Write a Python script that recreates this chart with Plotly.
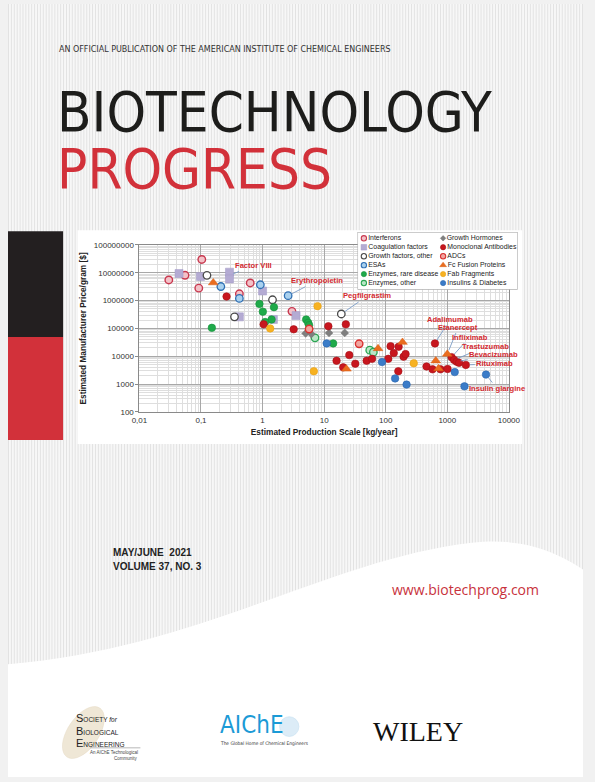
import base64
import math
import plotly.graph_objects as go

W, H = 595, 782

categories = ["Interferons", "Coagulation factors", "Growth factors, other", "ESAs",
              "Enzymes, rare disease", "Enzymes, other", "Growth Hormones",
              "Monoclonal Antibodies", "ADCs", "Fc Fusion Proteins", "Fab Fragments",
              "Insulins & Diabetes"]

# estimated production scale [kg/year] and price [$/g]
interferons_x = [0.030, 0.055, 0.103, 0.092, 0.42, 0.63, 3.0]
interferons_y = [5.5e6, 8.1e6, 3.0e7, 2.8e6, 1.75e6, 4.3e6, 4.1e5]
coagulation_x = [0.044, 0.098, 0.29, 0.29, 1.0, 0.42, 1.5, 3.5]
coagulation_y = [9.4e6, 7.3e6, 1.05e7, 6.0e6, 2.2e6, 2.6e5, 2.1e5, 2.9e5]
growth_factors_x = [0.125, 0.35, 1.45, 19]
growth_factors_y = [8.1e6, 2.6e5, 1.07e6, 3.3e5]
esas_x = [0.21, 0.42, 0.92, 2.6]
esas_y = [3.2e6, 1.2e6, 3.7e6, 1.5e6]
enzymes_rare_x = [0.15, 0.89, 1.01, 1.53, 1.4, 1.1, 5.1, 5.5, 5.7, 14]
enzymes_rare_y = [1.05e5, 7.6e5, 4.0e5, 5.8e5, 2.1e5, 1.7e5, 2.1e5, 1.6e5, 1.3e5, 2.9e4]
enzymes_other_x = [7.1, 55, 63]
enzymes_other_y = [4.6e4, 1.65e4, 1.4e4]
growth_hormones_x = [5.0, 6.2, 12, 21.6]
growth_hormones_y = [6.6e4, 6.3e4, 6.9e4, 6.9e4]
mabs_x = [0.26, 1.04, 3.2, 11.7, 22.5, 15.9, 20.4, 25.6, 32, 49, 60, 110, 120, 135,
          162, 195, 210, 160, 460, 575, 775, 1010, 630, 1175, 1290, 1420, 1550, 2000]
mabs_y = [1.4e6, 1.4e5, 9.3e4, 1.2e5, 1.4e5, 6.9e3, 4.0e3, 1.1e4, 5.4e3, 6.9e3, 8.1e3,
          8.1e3, 2.3e4, 1.3e4, 2.2e4, 9.7e3, 1.2e4, 2.9e3, 4.3e3, 3.4e3, 3.4e3, 3.5e3,
          2.9e4, 9.3e3, 7.4e3, 6.4e3, 5.8e3, 4.9e3]
adcs_x = [5.7, 37]
adcs_y = [9.5e4, 2.8e4]
fc_fusion_x = [0.158, 75, 187, 23, 650, 1000, 720]
fc_fusion_y = [4.4e6, 1.9e4, 3.2e4, 3.5e3, 6.9e3, 1.2e4, 3.6e3]
fab_x = [1.33, 7.8, 6.8, 285]
fab_y = [1.0e5, 6.3e5, 2.9e3, 5.6e3]
insulins_x = [11, 87, 142, 218, 1320, 1900, 4250]
insulins_y = [2.9e4, 6.2e3, 1.6e3, 960, 2.7e3, 830, 2.2e3]

x_tickvals = [0.01, 0.1, 1, 10, 100, 1000, 10000]
x_ticktext = ["0,01", "0,1", "1", "10", "100", "1000", "10000"]
y_tickvals = [100, 1000, 10000, 100000, 1000000, 10000000, 100000000]
y_ticktext = ["100", "1000", "10000", "100000", "1000000", "10000000", "100000000"]

# named products: label, x, y
label_names = ["Factor VIII", "Erythropoietin", "Pegfilgrastim", "Adalimumab", "Etanercept",
               "Infliximab", "Trastuzumab", "Bevacizumab", "Rituximab", "Insulin glargine"]
label_x = [0.29, 2.6, 19, 630, 1000, 1175, 1290, 1420, 2000, 4250]
label_y = [8.0e6, 1.5e6, 3.3e5, 2.9e4, 1.2e4, 9.3e3, 7.4e3, 6.4e3, 4.9e3, 2.2e3]
label_dx = [24, 29, 26, 15, 11, 18, 31, 37, 29, 11]
label_dy = [-10, -15, -18, -24, -27, -20, -13, -7, -1, 14]

series = {
    "Interferons": (interferons_x, interferons_y),
    "Coagulation factors": (coagulation_x, coagulation_y),
    "Growth factors, other": (growth_factors_x, growth_factors_y),
    "ESAs": (esas_x, esas_y),
    "Enzymes, rare disease": (enzymes_rare_x, enzymes_rare_y),
    "Enzymes, other": (enzymes_other_x, enzymes_other_y),
    "Growth Hormones": (growth_hormones_x, growth_hormones_y),
    "Monoclonal Antibodies": (mabs_x, mabs_y),
    "ADCs": (adcs_x, adcs_y),
    "Fc Fusion Proteins": (fc_fusion_x, fc_fusion_y),
    "Fab Fragments": (fab_x, fab_y),
    "Insulins & Diabetes": (insulins_x, insulins_y),
}

styles = {
    "Interferons": dict(symbol="circle", size=7.5, color="#f3c2c8", line=dict(color="#c8384f", width=1.4)),
    "Coagulation factors": dict(symbol="square", size=8, color="#b4abd3", line=dict(color="#a39bc6", width=0.5)),
    "Growth factors, other": dict(symbol="circle", size=7.5, color="#ffffff", line=dict(color="#4a4a4a", width=1.3)),
    "ESAs": dict(symbol="circle", size=7.5, color="#a9d1ef", line=dict(color="#2f6fb3", width=1.3)),
    "Enzymes, rare disease": dict(symbol="circle", size=7.5, color="#1faa4a", line=dict(color="#15903b", width=0.6)),
    "Enzymes, other": dict(symbol="circle", size=7.5, color="#b9e6c6", line=dict(color="#2aa552", width=1.3)),
    "Growth Hormones": dict(symbol="diamond", size=6, color="#7f7f7f", line=dict(color="#6e6e6e", width=0.5)),
    "Monoclonal Antibodies": dict(symbol="circle", size=7.5, color="#c8161e", line=dict(color="#a51218", width=0.6)),
    "ADCs": dict(symbol="circle", size=7.5, color="#f1a5a0", line=dict(color="#d9312f", width=1.4)),
    "Fc Fusion Proteins": dict(symbol="triangle-up", size=8.5, color="#ea6d1f", line=dict(color="#d85f15", width=0.5)),
    "Fab Fragments": dict(symbol="circle", size=7.5, color="#f7b222", line=dict(color="#e8a013", width=0.6)),
    "Insulins & Diabetes": dict(symbol="circle", size=7.5, color="#3b7cc8", line=dict(color="#2c67ad", width=0.6)),
}


def fx(px):
    return px / W


def fy(py):
    return 1 - py / H


fig = go.Figure()

for name in categories:
    xs, ys = series[name]
    fig.add_trace(go.Scatter(x=xs, y=ys, mode="markers", name=name, marker=styles[name],
                             showlegend=False, hoverinfo="x+y+name", xaxis="x", yaxis="y"))

# legend as a small inset: two columns of six
for i, name in enumerate(categories):
    st = dict(styles[name])
    st["size"] = st["size"] * 0.7
    st["line"] = dict(st["line"], width=min(st["line"]["width"], 1.1))
    fig.add_trace(go.Scatter(x=[i // 6], y=[i % 6], mode="markers+text", text=[name],
                             textposition="middle right", marker=st, showlegend=False,
                             textfont=dict(family="Liberation Sans, Arial", size=6.9, color="#222"),
                             hoverinfo="skip", xaxis="x2", yaxis="y2", cliponaxis=False))

font_axis = dict(family="Liberation Sans, Arial", size=8, color="#333")
fig.update_layout(
    width=W, height=H, autosize=False,
    margin=dict(l=0, r=0, t=0, b=0),
    paper_bgcolor="#f1f1f1", plot_bgcolor="rgba(0,0,0,0)",
    showlegend=False,
    xaxis=dict(type="log", range=[-2, 4], domain=[fx(136), fx(518.3)], anchor="y",
               tickvals=x_tickvals, ticktext=x_ticktext, tickfont=font_axis,
               showgrid=True, gridcolor="#a8a8a8", gridwidth=0.8,
               minor=dict(dtick="D1", showgrid=True, gridcolor="#dedede", gridwidth=0.5),
               showline=True, linecolor="#8a8a8a", linewidth=1, mirror=True,
               ticks="", zeroline=False,
               title=dict(text="Estimated Production Scale [kg/year]", standoff=5,
                          font=dict(family="Liberation Sans, Arial", size=8.3, color="#222", weight="bold"))),
    yaxis=dict(type="log", range=[2, 8], domain=[fy(412.7), fy(243.7)], anchor="x",
               tickvals=y_tickvals, ticktext=y_ticktext, tickfont=font_axis,
               showgrid=True, gridcolor="#a8a8a8", gridwidth=0.8,
               minor=dict(dtick="D1", showgrid=True, gridcolor="#dedede", gridwidth=0.5),
               showline=True, linecolor="#8a8a8a", linewidth=1, mirror=True,
               ticks="outside", ticklen=3, tickcolor="#8a8a8a", zeroline=False,
               title=dict(text="Estimated Manufacturer Price/gram [$]", standoff=5,
                          font=dict(family="Liberation Sans, Arial", size=8.3, color="#222", weight="bold"))),
    xaxis2=dict(domain=[fx(361.7), fx(527.3)], range=[-0.08, 1.94], anchor="y2",
                visible=False, fixedrange=True),
    yaxis2=dict(domain=[fy(289), fy(230.7)], range=[5.74, -0.7], anchor="x2",
                visible=False, fixedrange=True),
)

# striped cover background
svg = ('<svg xmlns="http://www.w3.org/2000/svg" width="595" height="782">'
       '<defs><pattern id="p" width="3" height="10" patternUnits="userSpaceOnUse">'
       '<rect width="3" height="10" fill="#f7f7f7"/><rect width="1" height="10" fill="#e2e2e2"/>'
       '</pattern></defs><rect width="595" height="782" fill="url(#p)"/></svg>')
fig.add_layout_image(source="data:image/svg+xml;base64," + base64.b64encode(svg.encode()).decode(),
                     xref="paper", yref="paper", x=0, y=1, sizex=1, sizey=1,
                     sizing="stretch", xanchor="left", yanchor="top", layer="below")

# white wave at the bottom
wave = ("M {},{} C {},{} {},{} {},{} C {},{} {},{} {},{} L {},{} L {},{} Z").format(
    fx(0), fy(668), fx(200), fy(652), fx(330), fy(562), fx(480), fy(545),
    fx(535), fy(539), fx(570), fy(556), fx(595), fy(572), fx(595), fy(782), fx(0), fy(782))
fig.add_shape(type="path", path=wave, xref="paper", yref="paper",
              fillcolor="#ffffff", line=dict(width=0), layer="below")
# side bars and chart panel
fig.add_shape(type="rect", xref="paper", yref="paper", x0=fx(0), x1=fx(57), y0=fy(337), y1=fy(230),
              fillcolor="#231f20", line=dict(width=0), layer="below")
fig.add_shape(type="rect", xref="paper", yref="paper", x0=fx(0), x1=fx(57), y0=fy(441), y1=fy(337),
              fillcolor="#d2313a", line=dict(width=0), layer="below")
fig.add_shape(type="rect", xref="paper", yref="paper", x0=fx(72), x1=fx(532), y0=fy(445), y1=fy(229),
              fillcolor="#ffffff", line=dict(width=0), layer="below")
# legend box
fig.add_shape(type="rect", xref="x2", yref="y2", x0=-0.08, x1=1.94, y0=5.74, y1=-0.7,
              fillcolor="#ffffff", line=dict(color="#a0a0a0", width=1), layer="below")

# product labels
for name, lx, ly, dx, dy in zip(label_names, label_x, label_y, label_dx, label_dy):
    fig.add_annotation(x=math.log10(lx), y=math.log10(ly), xref="x", yref="y", text=name,
                       showarrow=True, arrowhead=0, arrowwidth=0.9, arrowcolor="#7a9cc6",
                       ax=dx, ay=dy, standoff=4,
                       font=dict(family="Liberation Sans, Arial", size=7.6, color="#d42a30", weight="bold"))


# cover text
def cover_text(text, px, py, size, color, family, xanchor="left", weight="normal"):
    fig.add_annotation(x=fx(px), y=fy(py), xref="paper", yref="paper", text=text, showarrow=False,
                       xanchor=xanchor, yanchor="middle",
                       font=dict(family=family, size=size, color=color, weight=weight))


narrow = "Liberation Sans Narrow, DejaVu Sans Condensed, Arial Narrow, sans-serif"
cover_text("AN OFFICIAL PUBLICATION OF THE AMERICAN INSTITUTE OF CHEMICAL ENGINEERS",
           51, 46, 8.9, "#333", narrow)
cover_text("BIOTECHNOLOGY", 49, 108.6, 56, "#1d1d1b", narrow)
cover_text("PROGRESS", 49, 166.6, 56, "#d2313a", narrow)
cover_text("MAY/JUNE  2021", 107, 555, 10, "#222", "Liberation Sans, Arial", weight="bold")
cover_text("VOLUME 37, NO. 3", 107, 569, 10, "#222", "Liberation Sans, Arial", weight="bold")
cover_text("www.biotechprog.com", 473.5, 592, 14, "#c8323c", "Open Sans, sans-serif", xanchor="center")

# society / publisher marks
ell = []
for k in range(41):
    t = 2 * math.pi * k / 40
    ex, ey = 30 * math.cos(t), 16 * math.sin(t)
    a = math.radians(-55)
    ell.append((78 + ex * math.cos(a) - ey * math.sin(a), 737 + ex * math.sin(a) + ey * math.cos(a)))
ell_path = "M " + " L ".join("{},{}".format(fx(p), fy(q)) for p, q in ell) + " Z"
fig.add_shape(type="path", path=ell_path, xref="paper", yref="paper",
              fillcolor="#efe7d6", line=dict(color="#e4d9c2", width=0.5), layer="below")
sbe_font = "Liberation Sans, Arial"
cover_text("<span style='font-size:11px'>S</span>OCIETY <i>for</i>", 68, 722, 6.5, "#222", sbe_font)
cover_text("<span style='font-size:11px'>B</span>IOLOGICAL", 68, 735, 6.5, "#222", sbe_font)
cover_text("<span style='font-size:11px'>E</span>NGINEERING", 68, 747.5, 6.5, "#222", sbe_font)
fig.add_shape(type="line", xref="paper", yref="paper", x0=fx(85), x1=fx(137), y0=fy(752.5), y1=fy(752.5),
              line=dict(color="#888", width=0.6))
cover_text("An AIChE Technological", 137, 757.5, 4.5, "#444", sbe_font, xanchor="right")
cover_text("Community", 137, 763, 4.5, "#444", sbe_font, xanchor="right")

fig.add_shape(type="circle", xref="paper", yref="paper", x0=fx(281), x1=fx(301), y0=fy(741), y1=fy(721),
              fillcolor="#dcecf7", line=dict(color="#c5dff0", width=0.6), layer="below")
cover_text("AIChE", 217, 729.5, 24, "#1b9ad6", narrow)
cover_text("The Global Home of Chemical Engineers", 217, 748.5, 4.8, "#333", narrow)
cover_text("WILEY", 376, 736, 28, "#111", "Liberation Serif, Times New Roman, serif")

# the page body keeps its default 8px margin otherwise, which would shift the whole cover
fig.write_html("out.html", config=dict(displayModeBar=False),
               post_script="document.body.style.margin='0';"
                           "document.documentElement.style.overflow='hidden';")
